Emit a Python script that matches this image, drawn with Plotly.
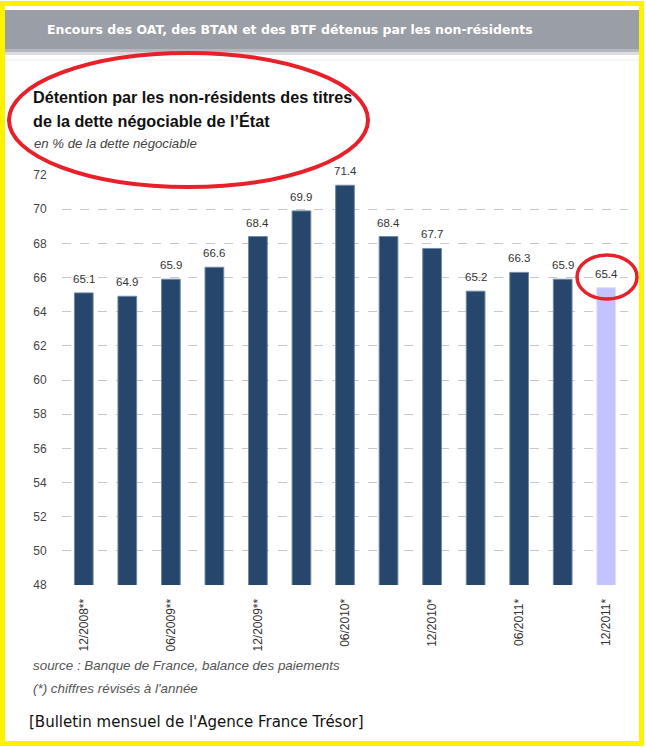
import plotly.graph_objects as go

# données
periodes = ["12/2008**", "03/2009**", "06/2009**", "09/2009**", "12/2009**",
            "03/2010*", "06/2010*", "09/2010*", "12/2010*",
            "03/2011*", "06/2011*", "09/2011*", "12/2011*"]
detention = [65.1, 64.9, 65.9, 66.6, 68.4, 69.9, 71.4, 68.4, 67.7, 65.2, 66.3, 65.9, 65.4]
periodes_affichees = periodes[::2]

W, H = 646, 747
L, R, T, B = 62, 628, 175, 585  # plot area in pixels


def px(x):
    return (x - L) / (R - L)


def py(y):
    return (B - y) / (B - T)


navy = "#27466b"
lavender = "#c3c3ff"
colors = [navy] * (len(detention) - 1) + [lavender]
edges = ["#7089a8"] * (len(detention) - 1) + ["#dcdcff"]

fig = go.Figure()
fig.add_trace(go.Bar(
    x=periodes, y=detention,
    marker=dict(color=colors, line=dict(color=edges, width=1)),
    width=0.43, hoverinfo="x+y"))

annotations = []
for p, v in zip(periodes, detention):
    annotations.append(dict(x=p, y=v, xref="x", yref="y", text=f"{v:.1f}",
                            showarrow=False, yanchor="bottom", yshift=6,
                            font=dict(family="Liberation Sans", size=11.5, color="#333333")))

# titles and notes
annotations += [
    dict(x=px(45), y=py(30), xref="paper", yref="paper", xanchor="left", yanchor="middle",
         text="<b>Encours des OAT, des BTAN et des BTF détenus par les non-résidents</b>",
         showarrow=False, font=dict(family="DejaVu Sans", size=12.5, color="white")),
    dict(x=px(31), y=py(97), xref="paper", yref="paper", xanchor="left", yanchor="middle",
         text="<b>Détention par les non-résidents des titres</b>", showarrow=False,
         font=dict(family="Liberation Sans", size=16.2, color="#111111")),
    dict(x=px(31), y=py(121), xref="paper", yref="paper", xanchor="left", yanchor="middle",
         text="<b>de la dette négociable de l’État</b>", showarrow=False,
         font=dict(family="Liberation Sans", size=16.2, color="#111111")),
    dict(x=px(32), y=py(144), xref="paper", yref="paper", xanchor="left", yanchor="middle",
         text="<i>en % de la dette négociable</i>", showarrow=False,
         font=dict(family="Liberation Sans", size=13.2, color="#444444")),
    dict(x=px(31), y=py(665), xref="paper", yref="paper", xanchor="left", yanchor="middle",
         text="<i>source : Banque de France, balance des paiements</i>", showarrow=False,
         font=dict(family="Liberation Sans", size=13.4, color="#555555")),
    dict(x=px(31), y=py(688), xref="paper", yref="paper", xanchor="left", yanchor="middle",
         text="<i>(*) chiffres révisés à l'année</i>", showarrow=False,
         font=dict(family="Liberation Sans", size=13.4, color="#555555")),
    dict(x=px(27), y=py(722), xref="paper", yref="paper", xanchor="left", yanchor="middle",
         text="[Bulletin mensuel de l'Agence France Trésor]", showarrow=False,
         font=dict(family="DejaVu Sans", size=15, color="#111111")),
]

shapes = [
    # grey header band with soft lower edge
    dict(type="rect", xref="paper", yref="paper", x0=px(5), x1=px(640), y0=py(10), y1=py(49),
         fillcolor="#9a9ea6", line=dict(width=0), layer="below"),
    dict(type="rect", xref="paper", yref="paper", x0=px(5), x1=px(640), y0=py(49), y1=py(52),
         fillcolor="#b4b7bd", line=dict(width=0), layer="below"),
    dict(type="rect", xref="paper", yref="paper", x0=px(5), x1=px(640), y0=py(52), y1=py(55),
         fillcolor="#dcdde0", line=dict(width=0), layer="below"),
    dict(type="line", xref="paper", yref="paper", x0=px(5), x1=px(640), y0=py(60), y1=py(60),
         line=dict(color="#eeeeee", width=1), layer="below"),
    # yellow frame
    dict(type="rect", xref="paper", yref="paper", x0=px(2.5), x1=px(641.5), y0=py(3.5), y1=py(743.5),
         line=dict(color="#fff200", width=5), fillcolor="rgba(0,0,0,0)", layer="above"),
    # red ellipses
    dict(type="circle", xref="paper", yref="paper", x0=px(9), x1=px(368), y0=py(53), y1=py(187),
         line=dict(color="#e8202a", width=4), layer="above"),
    dict(type="circle", xref="paper", yref="paper", x0=px(577), x1=px(637), y0=py(255), y1=py(299),
         line=dict(color="#e8202a", width=3.5), layer="above"),
]

fig.update_layout(
    width=W, height=H,
    margin=dict(l=L, r=W - R, t=T, b=H - B, autoexpand=False),
    paper_bgcolor="white", plot_bgcolor="white",
    showlegend=False,
    annotations=annotations,
    shapes=shapes,
    xaxis=dict(
        type="category", range=[-0.5, len(periodes) - 0.5],
        tickmode="array", tickvals=periodes_affichees, ticktext=periodes_affichees,
        tickangle=-90, ticks="outside", ticklen=8, tickcolor="rgba(0,0,0,0)",
        tickfont=dict(family="Liberation Sans", size=12, color="#333333"),
        showgrid=False, showline=False, zeroline=False),
    yaxis=dict(
        range=[48, 72], dtick=2, tick0=48,
        ticks="outside", ticklen=12, tickcolor="rgba(0,0,0,0)",
        tickfont=dict(family="Liberation Sans", size=12, color="#444444"),
        showgrid=True, gridcolor="#c8c8c8", griddash="dash", gridwidth=1,
        showline=False, zeroline=False),
)

# page sans marge, pour que la figure occupe exactement la fenêtre
fig.write_html("out.html", config={"displayModeBar": False},
               post_script="document.body.style.margin='0';document.body.style.overflow='hidden';")
